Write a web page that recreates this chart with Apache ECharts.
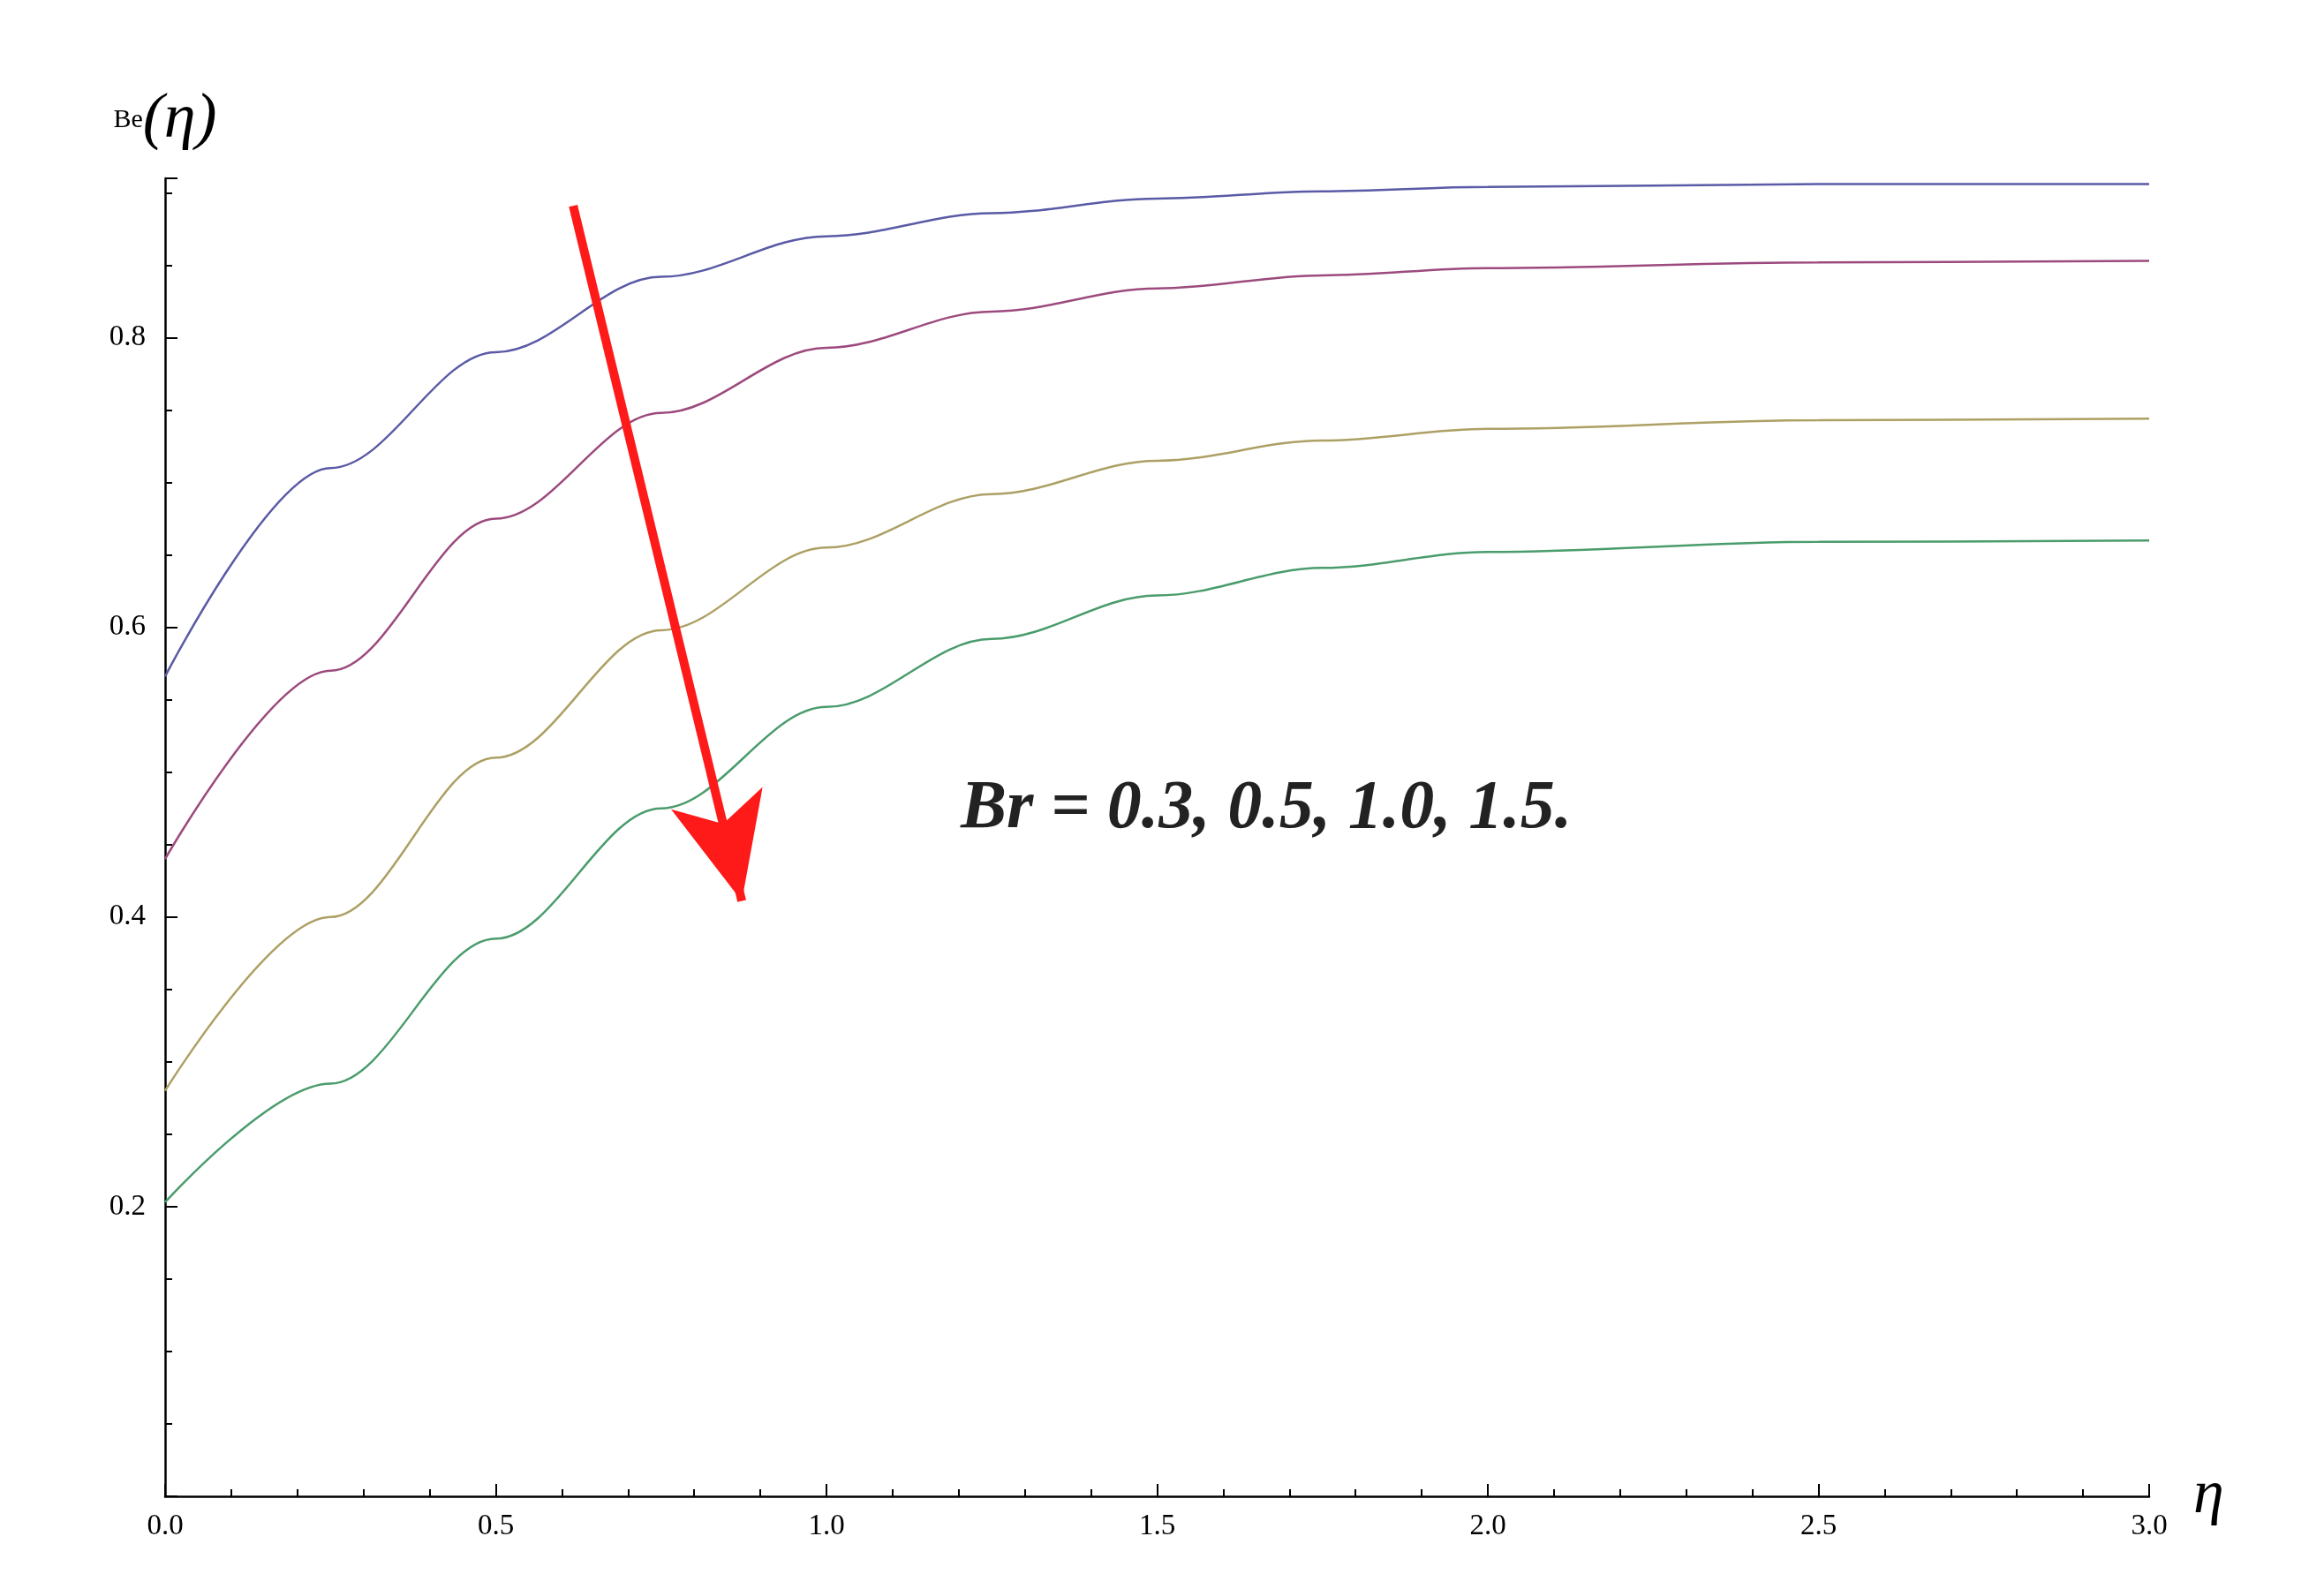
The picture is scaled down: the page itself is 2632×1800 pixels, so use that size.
<!DOCTYPE html>
<html>
<head>
<meta charset="utf-8">
<script src="https://cdn.jsdelivr.net/npm/echarts@6/dist/echarts.min.js"></script>
<style>html,body{margin:0;background:#fff}#c{width:2632px;height:1800px}</style>
</head>
<body>
<div id="c"></div>
<script>
const etaValues = [0, 0.25, 0.5, 0.75, 1.0, 1.25, 1.5, 1.75, 2.0, 2.5, 3.0];
const br03 = [0.566, 0.710, 0.790, 0.842, 0.870, 0.886, 0.896, 0.901, 0.904, 0.906, 0.906];
const br05 = [0.440, 0.570, 0.675, 0.748, 0.793, 0.818, 0.834, 0.843, 0.848, 0.852, 0.853];
const br10 = [0.280, 0.400, 0.510, 0.598, 0.655, 0.692, 0.715, 0.729, 0.737, 0.743, 0.744];
const br15 = [0.203, 0.285, 0.385, 0.475, 0.545, 0.592, 0.622, 0.641, 0.652, 0.659, 0.660];
const arrowFrom = [0.617, 0.891];
const arrowTo = [0.872, 0.411];

const pair = ys => etaValues.map((x, i) => [x, ys[i]]);
const font = 'Liberation Serif';

let chart = echarts.init(document.getElementById('c'));

let line = (name, ys, color) => ({
  name, type: 'line', data: pair(ys), smooth: 0.35, smoothMonotone: 'x', symbol: 'none',
  lineStyle: { width: 2.5, color }
});

let series = [
  line('Br=0.3', br03, '#5a5aa6'),
  line('Br=0.5', br05, '#9c4a7e'),
  line('Br=1.0', br10, '#ada064'),
  line('Br=1.5', br15, '#4a9c6c')
];
series[0].markLine = {
  silent: true, symbol: ['none', 'arrow'], symbolSize: [80, 120],
  label: { show: false },
  lineStyle: { color: '#ff1a1a', width: 10, type: 'solid' },
  data: [[{ coord: arrowFrom }, { coord: arrowTo }]]
};

chart.setOption({
  animation: false,
  grid: { left: 187, right: 198, top: 202, bottom: 105 },
  xAxis: {
    type: 'value', min: 0, max: 3, interval: 0.5,
    name: 'η', nameLocation: 'end', nameGap: 50,
    nameTextStyle: { fontFamily: font, fontStyle: 'italic', fontSize: 70, verticalAlign: 'middle' },
    axisLine: { lineStyle: { color: '#000', width: 2.5 } },
    axisTick: { inside: true, length: 14, lineStyle: { color: '#000', width: 2 } },
    minorTick: { show: true, splitNumber: 5, length: 8, lineStyle: { color: '#000', width: 2 } },
    splitLine: { show: false },
    axisLabel: { fontFamily: font, fontSize: 33, color: '#000', margin: 18,
      formatter: v => v.toFixed(1) }
  },
  yAxis: {
    type: 'value', min: 0, max: 0.91, interval: 0.2,
    name: '{s|Be}{b|(η)}', nameLocation: 'end', nameGap: 30,
    nameTextStyle: { align: 'center', rich: {
      s: { fontFamily: font, fontSize: 30 },
      b: { fontFamily: font, fontStyle: 'italic', fontSize: 72 } } },
    axisLine: { onZero: false, lineStyle: { color: '#000', width: 2.5 } },
    axisTick: { inside: true, length: 14, lineStyle: { color: '#000', width: 2 } },
    minorTick: { show: true, splitNumber: 4, length: 8, lineStyle: { color: '#000', width: 2 } },
    splitLine: { show: false },
    axisLabel: { fontFamily: font, fontSize: 33, color: '#000', margin: 22, showMaxLabel: false,
      formatter: v => (v === 0 || v > 0.85) ? '' : v.toFixed(1) }
  },
  graphic: [{
    type: 'text', left: 1088, top: 878,
    style: { text: 'Br = 0.3, 0.5, 1.0, 1.5.', fontFamily: font, fontStyle: 'italic',
      fontWeight: 'bold', fontSize: 78, fill: '#222' }
  }],
  series
});
</script>
</body>
</html>
